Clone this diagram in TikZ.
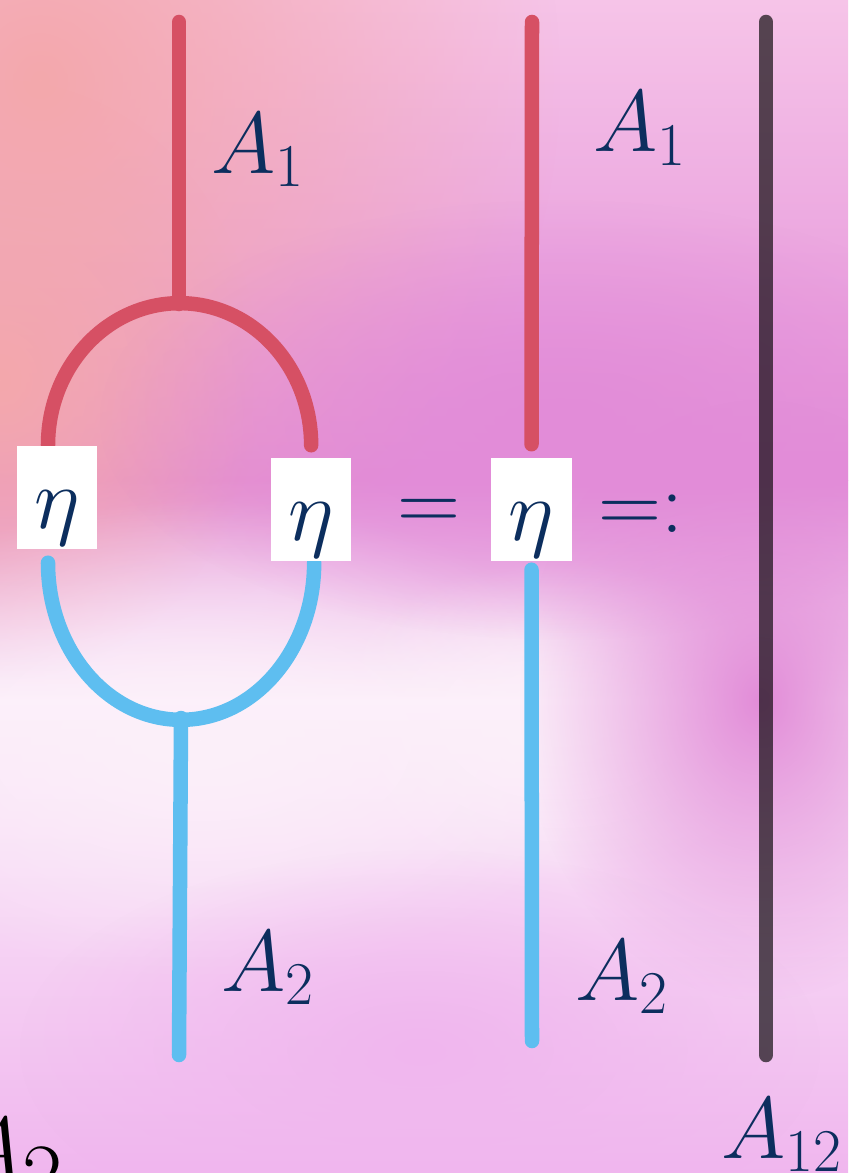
\documentclass[tikz,border=0pt]{standalone}
\usepackage{xcolor}
\usetikzlibrary{calc, fadings}
\definecolor{bgSalmon}{RGB}{244,168,172}
\definecolor{bgPink}{RGB}{246,196,232}
\definecolor{bgMag}{RGB}{226,140,216}
\definecolor{bgWhite}{RGB}{252,240,250}
\definecolor{bgLav}{RGB}{240,182,238}
\definecolor{wireRed}{RGB}{214,80,100}
\definecolor{wireBlue}{RGB}{94,190,240}
\definecolor{inkNavy}{RGB}{12,46,94}
\tikzfading[name=softBlob, inner color=transparent!0, outer color=transparent!100]
\tikzset{
    % Wires
    wire/.style={line width=0.145cm, line cap=round},
    redWire/.style={wire, draw=wireRed},
    blueWire/.style={wire, draw=wireBlue},
    darkWire/.style={wire, draw=black, draw opacity=0.65},
    % Background blobs
    blob/.style={path fading=softBlob},
    % Boxes & Labels
    etaBox/.style={rectangle, fill=white, inner sep=0pt, minimum width=0.8cm,
                   text height=0.82cm, text depth=0.21cm, text=inkNavy, anchor=base},
    lbl/.style={anchor=base west, inner sep=0pt, text=inkNavy}
}

\begin{document}
\begin{tikzpicture}[x=0.01cm, y=0.01cm, font=\fontsize{23}{28}\selectfont]

\useasboundingbox (0,0) rectangle (848,-1173);
\clip (0,0) rectangle (848,-1173);

% background
\shade[top color=bgPink, bottom color=bgMag] (0,0) rectangle (848,-480);
\shade[top color=bgMag, bottom color=bgWhite] (0,-480) rectangle (848,-700);
\shade[top color=bgWhite, bottom color=bgLav] (0,-700) rectangle (848,-1173);
\fill[bgSalmon, blob] (40,-80) ellipse[x radius=5.2cm, y radius=5.6cm];
\fill[bgSalmon, blob] (0,-380) ellipse[x radius=2.6cm, y radius=3cm];
\fill[bgWhite, blob] (200,-740) ellipse[x radius=4.2cm, y radius=2.4cm];
\fill[bgWhite, blob] (560,-720) ellipse[x radius=2.4cm, y radius=1.6cm];
\fill[bgMag, blob] (560,-420) ellipse[x radius=4.6cm, y radius=2.2cm];
\fill[bgMag, blob] (760,-700) ellipse[x radius=2.4cm, y radius=3cm];
\fill[bgLav, blob] (420,-1050) ellipse[x radius=4cm, y radius=2cm];

% nodes
\node[etaBox] (etaL) at (57,-528) {$\eta$};
\node[etaBox] (etaR) at (311,-540) {$\eta$};
\node[etaBox] (etaM) at (531.5,-540) {$\eta$};
\node[text=inkNavy, anchor=base, inner sep=0pt] (eq) at (429,-530) {$=$};
\node[text=inkNavy, anchor=base west, inner sep=0pt] (def) at (598,-532) {$=:$};

\coordinate (topL) at (179,-22);
\coordinate (jTop) at (179,-304);
\coordinate (jBot) at (181,-718);
\coordinate (botL) at (179,-1055);
\coordinate (topM) at (532,-22);
\coordinate (botM) at (532,-1041);
\coordinate (topD) at (766,-22);
\coordinate (botD) at (766,-1055);

% wires
\draw[redWire] (topL) -- (jTop);
\draw[redWire] ([xshift=-0.09cm]etaL.north) arc[start angle=180, end angle=0, x radius=1.315cm, y radius=1.42cm];
\draw[blueWire] ([xshift=-0.09cm, yshift=-0.13cm]etaL.south) arc[start angle=180, end angle=360, x radius=1.33cm, y radius=1.57cm];
\draw[blueWire] (jBot) -- (botL);
\draw[redWire] (topM) -- ([yshift=0.13cm]etaM.north);
\draw[blueWire] ([yshift=-0.08cm]etaM.south) -- (botM);
\draw[darkWire] (topD) -- (botD);

% redraw boxes over wire ends
\node[etaBox] at (etaL.base) {$\eta$};
\node[etaBox] at (etaR.base) {$\eta$};
\node[etaBox] at (etaM.base) {$\eta$};

% labels
\node[lbl] (a1L) at (211,-173) {$A_1$};
\node[lbl] (a1M) at (593,-152) {$A_1$};
\node[lbl] (a2L) at (221,-991) {$A_2$};
\node[lbl] (a2M) at (575,-1000) {$A_2$};
\node[lbl] (a12) at (721,-1158) {$A_{12}$};
\node[anchor=base west, inner sep=0pt, font=\fontsize{34}{40}\selectfont] (a2Cut) at (-42,-1178) {$A_2$};

\end{tikzpicture}
\end{document}
